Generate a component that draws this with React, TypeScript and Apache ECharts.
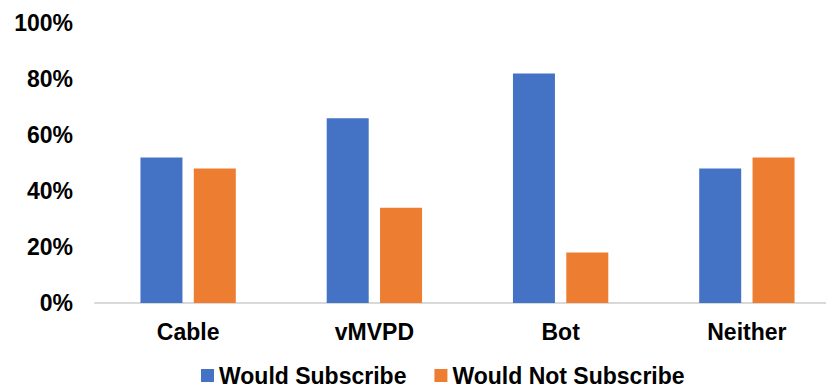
import React, { useEffect, useRef } from "react";
import * as echarts from "echarts";

// Share of respondents by service type
const categories = ["Cable", "vMVPD", "Bot", "Neither"];
const wouldSubscribe = [52, 66, 82, 48];
const wouldNotSubscribe = [48, 34, 18, 52];
const seriesNames = ["Would Subscribe", "Would Not Subscribe"];
const yTicks = { min: 0, max: 100, interval: 20 };

const FONT = "Arial, 'Liberation Sans', sans-serif";

export default function App() {
  const ref = useRef<HTMLDivElement>(null);

  useEffect(() => {
    if (!ref.current) return;
    const chart = echarts.init(ref.current, undefined, { renderer: "svg" });
    chart.setOption({
      animation: false,
      backgroundColor: "#ffffff",
      textStyle: { fontFamily: FONT },
      grid: { left: 95, top: 23, width: 745, height: 280, containLabel: false },
      legend: {
        data: seriesNames,
        left: 196,
        top: 359,
        itemWidth: 13,
        itemHeight: 13,
        itemGap: 28,
        icon: "rect",
        textStyle: { fontSize: 23, fontWeight: "bold", color: "#000", fontFamily: FONT },
      },
      xAxis: {
        type: "category",
        data: categories,
        axisTick: { show: false },
        axisLine: { lineStyle: { color: "#d9d9d9", width: 2 } },
        axisLabel: {
          fontSize: 23,
          fontWeight: "bold",
          color: "#000",
          margin: 17,
          fontFamily: FONT,
        },
      },
      yAxis: {
        type: "value",
        min: yTicks.min,
        max: yTicks.max,
        interval: yTicks.interval,
        axisLine: { show: false },
        axisTick: { show: false },
        splitLine: { show: false },
        axisLabel: {
          formatter: "{value}%",
          fontSize: 23,
          fontWeight: "bold",
          color: "#000",
          margin: 22,
          fontFamily: FONT,
        },
      },
      series: [
        {
          name: seriesNames[0],
          type: "bar",
          data: wouldSubscribe,
          barWidth: 42,
          barGap: "27%",
          itemStyle: { color: "#4472C4" },
        },
        {
          name: seriesNames[1],
          type: "bar",
          data: wouldNotSubscribe,
          barWidth: 42,
          barGap: "27%",
          itemStyle: { color: "#ED7D31" },
        },
      ],
    });
    return () => chart.dispose();
  }, []);

  // The plot runs past the right edge of the visible frame, so the chart
  // canvas is wider than the clipping wrapper around it.
  return (
    <div
      style={{
        position: "absolute",
        left: 0,
        top: 0,
        width: 826,
        height: 384,
        overflow: "hidden",
        background: "#fff",
      }}
    >
      <div ref={ref} style={{ width: 860, height: 384 }} />
    </div>
  );
}
